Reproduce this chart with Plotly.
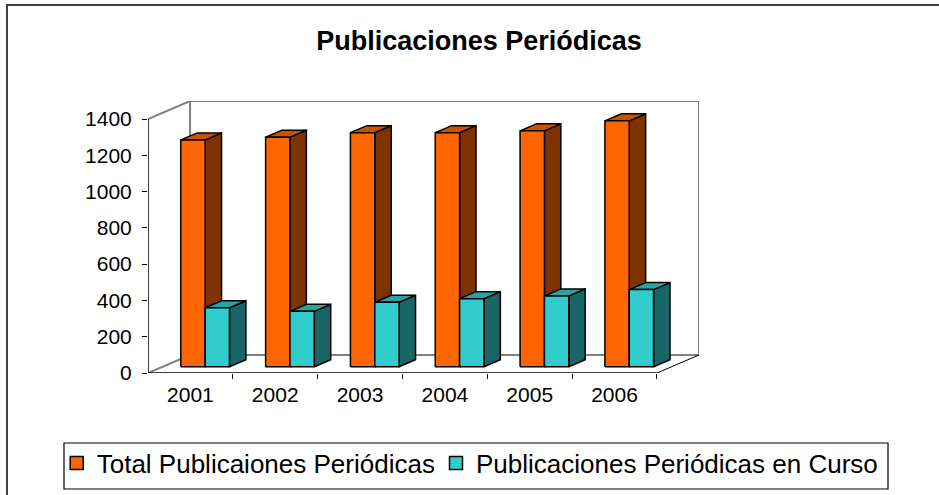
import plotly.graph_objects as go

# ---- data ----
years = ["2001", "2002", "2003", "2004", "2005", "2006"]
total_publicaciones = [1250, 1265, 1290, 1290, 1300, 1355]
publicaciones_curso = [325, 305, 355, 375, 390, 425]
y_ticks = [0, 200, 400, 600, 800, 1000, 1200, 1400]
series_names = ["Total Publicaiones Periódicas", "Publicaciones Periódicas en Curso"]

# ---- style / pseudo-3D geometry ----
FONT = "Liberation Sans, Arial, sans-serif"
DX, DY = 0.496, 99.2        # full depth of the chart box (category units, value units)
F0, F1 = 0.35, 0.74         # depth fraction of bar front / back faces
W = 0.287                   # bar width (category units)
colors = [
    dict(front="#FF6600", top="#CC5200", side="#7F3300"),
    dict(front="#33CCCC", top="#29A3A3", side="#1A6666"),
]
YMAX = y_ticks[-1]
NC = len(years)

FW, FH = 939, 495
# plot area in pixels: x 148..699, y 101..373
L, R, T, B = 148, FW - 699, 101, FH - 373
PW, PH = FW - L - R, FH - T - B


def px2paper(px, py):
    return (px - L) / PW, (FH - B - py) / PH


fig = go.Figure()

ddx, ddy = (F1 - F0) * DX, (F1 - F0) * DY
for s, vals in enumerate([total_publicaciones, publicaciones_curso]):
    faces = {"side": ([], []), "top": ([], []), "front": ([], [])}
    for i, v in enumerate(vals):
        xl = i + 0.5 - W + s * W + F0 * DX
        xr = xl + W
        yb = F0 * DY
        yt = yb + v
        polys = {
            "front": [(xl, yb), (xr, yb), (xr, yt), (xl, yt), (xl, yb)],
            "side": [(xr, yb), (xr + ddx, yb + ddy), (xr + ddx, yt + ddy), (xr, yt), (xr, yb)],
            "top": [(xl, yt), (xr, yt), (xr + ddx, yt + ddy), (xl + ddx, yt + ddy), (xl, yt)],
        }
        for k, pts in polys.items():
            faces[k][0].extend([p[0] for p in pts] + [None])
            faces[k][1].extend([p[1] for p in pts] + [None])
    for k in ["side", "top", "front"]:
        fig.add_trace(go.Scatter(
            x=faces[k][0], y=faces[k][1], mode="lines", fill="toself",
            fillcolor=colors[s][k], line=dict(color="black", width=1.5),
            showlegend=False, hoverinfo="skip", name=series_names[s],
        ))

# legend-only entries (one legend each, framed by a common box)
for s, lg in enumerate(["legend", "legend2"]):
    fig.add_trace(go.Scatter(
        x=[None], y=[None], mode="markers", name=series_names[s], legend=lg,
        marker=dict(symbol="square", size=13, color=colors[s]["front"],
                    line=dict(color="black", width=1.5)),
    ))

shapes = []
gray = dict(color="#808080", width=2)
blk = dict(color="black", width=1.5)
# back wall
shapes.append(dict(type="rect", xref="x", yref="y", x0=DX, x1=NC + DX, y0=DY, y1=YMAX + DY,
                   line=gray, layer="below"))
# left wall / floor diagonals
shapes.append(dict(type="line", xref="x", yref="y", x0=0, y0=YMAX, x1=DX, y1=YMAX + DY, line=gray, layer="below"))
shapes.append(dict(type="line", xref="x", yref="y", x0=0, y0=0, x1=DX, y1=DY, line=gray, layer="below"))
shapes.append(dict(type="line", xref="x", yref="y", x0=NC, y0=0, x1=NC + DX, y1=DY,
                   line=dict(color="black", width=1), layer="below"))
# front axis lines
shapes.append(dict(type="line", xref="x", yref="y", x0=0, y0=0, x1=0, y1=YMAX, line=blk))
shapes.append(dict(type="line", xref="x", yref="y", x0=0, y0=0, x1=NC, y1=0, line=blk))
# outer chart border
bx0, by0 = px2paper(7, 5)
bx1, by1 = px2paper(960, 520)
shapes.append(dict(type="rect", xref="paper", yref="paper", x0=bx0, y0=by1, x1=bx1, y1=by0,
                   line=dict(color="#404040", width=2), layer="below"))
# legend frame
lb0x, lb0y = px2paper(64, 443)
lb1x, lb1y = px2paper(888, 489)
shapes.append(dict(type="rect", xref="paper", yref="paper", x0=lb0x, y0=lb1y, x1=lb1x, y1=lb0y,
                   line=dict(color="black", width=1.2), fillcolor="white", layer="below"))

l1x, lmy = px2paper(97.7 - 41, 463)
l2x, _ = px2paper(476 - 40, 463)
leg_common = dict(orientation="h", xref="paper", yref="paper", xanchor="left", yanchor="middle",
                  borderwidth=0, bgcolor="rgba(0,0,0,0)", font=dict(size=26, family=FONT),
                  itemwidth=30)

fig.update_layout(
    width=FW, height=FH,
    margin=dict(l=L, r=R, t=T, b=B, autoexpand=False),
    paper_bgcolor="white", plot_bgcolor="white",
    font=dict(family=FONT, color="black", size=21),
    title=dict(text="<b>Publicaciones Periódicas</b>", x=479 / FW, xanchor="center",
               y=1 - 41 / FH, yanchor="middle", font=dict(size=27, family=FONT)),
    xaxis=dict(range=[0, NC + DX], tickvals=[i + 0.5 for i in range(NC)], ticktext=years,
               ticks="", showgrid=False, zeroline=False, showline=False,
               ticklabelstandoff=7, tickfont=dict(size=21),
               minor=dict(tickvals=list(range(1, NC + 1)), ticks="outside", ticklen=5,
                          tickcolor="black", tickwidth=1, showgrid=False)),
    yaxis=dict(range=[0, YMAX + DY], tickvals=y_ticks, ticks="outside", ticklen=5,
               tickcolor="black", tickwidth=1, showgrid=False, zeroline=False, showline=False,
               ticklabelstandoff=6, tickfont=dict(size=21)),
    legend=dict(x=l1x, y=lmy, **leg_common),
    legend2=dict(x=l2x, y=lmy, **leg_common),
    shapes=shapes,
)

fig.write_html("out.html", config={"displayModeBar": False},
               post_script="document.body.style.margin='0px';")
